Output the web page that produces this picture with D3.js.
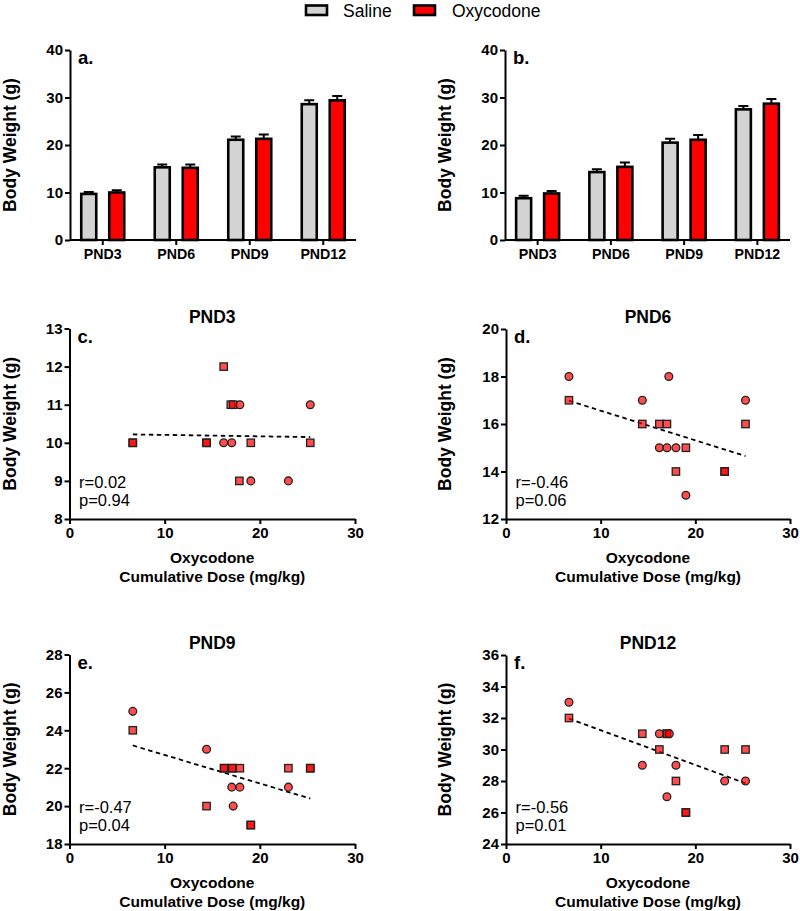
<!DOCTYPE html>
<html>
<head>
<meta charset="utf-8">
<script src="https://cdn.jsdelivr.net/npm/d3@7"></script>
<style>
  html, body { margin: 0; padding: 0; background: #fff; }
  svg text { font-family: Arial, "Liberation Sans", sans-serif; }
</style>
</head>
<body>
<svg id="chart" width="800" height="911"></svg>
<script>
// ---------------- DATA ----------------
const barCategories = ["PND3", "PND6", "PND9", "PND12"];
const barSeries = ["Saline", "Oxycodone"];

// Panel a
const aSaline = [9.7, 15.3, 21.1, 28.6];
const aSalineErr = [0.4, 0.6, 0.7, 0.8];
const aOxy = [10.0, 15.2, 21.3, 29.4];
const aOxyErr = [0.5, 0.7, 0.9, 0.9];
// Panel b
const bSaline = [8.8, 14.3, 20.5, 27.5];
const bSalineErr = [0.5, 0.6, 0.8, 0.7];
const bOxy = [9.8, 15.4, 21.1, 28.7];
const bOxyErr = [0.5, 0.9, 1.0, 1.0];

const barYTicks = [0, 10, 20, 30, 40];
const doseTicks = [0, 10, 20, 30];

// Scatter panels: [dose, weight]; repeated entries = overlapping animals
const pnd3Circles = [[16.2, 10], [17.05, 10], [17.9, 11], [25.3, 11], [19.05, 9], [23.0, 9]];
const pnd3Squares = [[6.65, 10], [6.65, 10], [14.4, 10], [14.4, 10], [16.2, 12], [16.95, 11], [17.2, 11],
                     [17.85, 9], [19.05, 10], [25.3, 10]];
const pnd3Fit = [[6.65, 10.22], [25.3, 10.15]];
const pnd3YTicks = [8, 9, 10, 11, 12, 13];

const pnd6Circles = [[6.65, 18], [14.4, 17], [17.2, 18], [16.2, 15], [17.0, 15], [17.95, 15], [19.0, 13], [25.3, 17]];
const pnd6Squares = [[6.65, 17], [14.4, 16], [16.2, 16], [17.0, 16], [19.0, 15], [17.95, 14], [23.1, 14], [23.1, 14], [25.3, 16]];
const pnd6Fit = [[6.65, 16.98], [25.3, 14.65]];
const pnd6YTicks = [12, 14, 16, 18, 20];

const pnd9Circles = [[6.65, 25], [14.4, 23], [17.05, 21], [17.9, 21], [17.2, 20], [23.0, 21]];
const pnd9Squares = [[6.65, 24], [14.4, 20], [16.25, 22], [16.25, 22], [17.1, 22], [17.1, 22], [17.9, 22],
                     [19.05, 19], [19.05, 19], [23.0, 22], [25.3, 22], [25.3, 22]];
const pnd9Fit = [[6.65, 23.2], [25.3, 20.4]];
const pnd9YTicks = [18, 20, 22, 24, 26, 28];

const pnd12Circles = [[6.65, 33], [14.4, 29], [16.2, 31], [17.25, 31], [17.95, 29], [17.0, 27], [23.1, 28], [25.3, 28]];
const pnd12Squares = [[6.65, 32], [14.4, 31], [16.2, 30], [17.0, 31], [17.0, 31], [17.95, 28], [19.0, 26], [19.0, 26],
                      [23.1, 30], [25.3, 30]];
const pnd12Fit = [[6.65, 31.96], [25.3, 27.85]];
const pnd12YTicks = [24, 26, 28, 30, 32, 34, 36];

const stats = {
  c: ["r=0.02", "p=0.94"],
  d: ["r=-0.46", "p=0.06"],
  e: ["r=-0.47", "p=0.04"],
  f: ["r=-0.56", "p=0.01"]
};

// ---------------- DRAWING ----------------
const svg = d3.select("#chart");
const colors = { Saline: "#d3d3d3", Oxycodone: "#ff0000" };
const intFmt = d3.format("d");

function styleAxis(g) {
  g.selectAll(".domain").attr("stroke", "#000").attr("stroke-width", 2);
  g.selectAll(".tick line").attr("stroke", "#000").attr("stroke-width", 2);
  g.selectAll(".tick text").attr("fill", "#000").attr("font-weight", "bold")
    .attr("font-size", "15px").attr("font-family", "Arial, 'Liberation Sans', sans-serif");
}

function yLabel(x, cy) {
  svg.append("text")
    .attr("transform", `translate(${x},${cy}) rotate(-90)`)
    .attr("text-anchor", "middle")
    .attr("font-size", "17.5px").attr("font-weight", "bold")
    .text("Body Weight (g)");
}

function panelLetter(x, y, t) {
  svg.append("text").attr("x", x).attr("y", y)
    .attr("font-size", "18.5px").attr("font-weight", "bold").text(t);
}

function barPanel(opt) {
  const { x0, x1, y0, y1, sal, salErr, oxy, oxyErr, letter, labelX } = opt;
  const y = d3.scaleLinear().domain([0, 40]).range([y0, y1]);
  const xb = d3.scaleBand().domain(barCategories).range([x0 - 4, x1 + 4]);
  const xs = d3.scalePoint().domain(barSeries).range([-14, 14]);
  const g = svg.append("g");

  const rows = [];
  barCategories.forEach((c, i) => {
    rows.push({ c, s: "Saline", v: sal[i], e: salErr[i] });
    rows.push({ c, s: "Oxycodone", v: oxy[i], e: oxyErr[i] });
  });
  const bw = 15;
  const cx = d => xb(d.c) + xb.bandwidth() / 2 + xs(d.s);

  // error bars
  g.selectAll(".err").data(rows).enter().append("path")
    .attr("d", d => `M${cx(d)},${y(d.v)}V${y(d.v + d.e)}M${cx(d) - 5},${y(d.v + d.e)}H${cx(d) + 5}`)
    .attr("stroke", "#000").attr("stroke-width", 2).attr("fill", "none");

  g.selectAll(".bar").data(rows).enter().append("rect")
    .attr("x", d => cx(d) - bw / 2)
    .attr("y", d => y(d.v))
    .attr("width", bw)
    .attr("height", d => y(0) - y(d.v))
    .attr("fill", d => colors[d.s])
    .attr("stroke", "#000").attr("stroke-width", 2.6);

  // y axis
  const ya = g.append("g").attr("transform", `translate(${x0},0)`)
    .call(d3.axisLeft(y).tickValues(barYTicks).tickFormat(intFmt).tickSize(5).tickPadding(2).tickSizeOuter(0));
  styleAxis(ya);
  // x axis line
  g.append("path").attr("d", `M${x0},${y0}H${x1}`).attr("stroke", "#000").attr("stroke-width", 2);
  const bx = g.append("g").attr("transform", `translate(0,${y0})`)
    .call(d3.axisBottom(xb).tickSize(5).tickPadding(4).tickSizeOuter(0));
  bx.select(".domain").remove();
  styleAxis(bx);
  bx.selectAll(".tick text").attr("font-size", "14.2px");

  yLabel(labelX, (y0 + y1) / 2);
  panelLetter(x0 + 8, y1 + 13.5, letter);
}

function scatterPanel(opt) {
  const { x0, x1, y0, y1, dom, ticks, circles, squares, fit, letter, title, st, labelX } = opt;
  const x = d3.scaleLinear().domain([0, 30]).range([x0, x1]);
  const y = d3.scaleLinear().domain(dom).range([y0, y1]);
  const g = svg.append("g");

  const xa = g.append("g").attr("transform", `translate(0,${y0})`)
    .call(d3.axisBottom(x).tickValues(doseTicks).tickFormat(intFmt).tickSize(5).tickPadding(3).tickSizeOuter(0));
  styleAxis(xa);
  const ya = g.append("g").attr("transform", `translate(${x0},0)`)
    .call(d3.axisLeft(y).tickValues(ticks).tickFormat(intFmt).tickSize(5).tickPadding(2).tickSizeOuter(0));
  styleAxis(ya);

  // fit line
  g.append("path").datum(fit)
    .attr("d", d3.line().x(d => x(d[0])).y(d => y(d[1])))
    .attr("stroke", "#000").attr("stroke-width", 1.8).attr("fill", "none")
    .attr("stroke-dasharray", "4.5,3.5");

  const fill = "#ff0000", fo = 0.7;
  g.selectAll(".sq").data(squares).enter().append("rect")
    .attr("x", d => x(d[0]) - 3.7).attr("y", d => y(d[1]) - 3.7)
    .attr("width", 7.4).attr("height", 7.4)
    .attr("fill", fill).attr("fill-opacity", fo)
    .attr("stroke", "#222").attr("stroke-width", 1.3);
  g.selectAll(".ci").data(circles).enter().append("circle")
    .attr("cx", d => x(d[0])).attr("cy", d => y(d[1])).attr("r", 3.9)
    .attr("fill", fill).attr("fill-opacity", fo)
    .attr("stroke", "#222").attr("stroke-width", 1.3);

  // title
  svg.append("text").attr("x", (x0 + x1) / 2).attr("y", y1 - 6)
    .attr("text-anchor", "middle").attr("font-size", "17.5px").attr("font-weight", "bold").text(title);
  panelLetter(x0 + 8, y1 + 14, letter);

  // stats
  svg.append("text").attr("x", x0 + 9.5).attr("y", y0 - 31.5)
    .attr("font-size", "16.5px").text(st[0]);
  svg.append("text").attr("x", x0 + 9.5).attr("y", y0 - 13)
    .attr("font-size", "16.5px").text(st[1]);

  // x title
  svg.append("text").attr("x", (x0 + x1) / 2).attr("y", y0 + 44)
    .attr("text-anchor", "middle").attr("font-size", "15.5px").attr("font-weight", "bold").text("Oxycodone");
  svg.append("text").attr("x", (x0 + x1) / 2).attr("y", y0 + 63)
    .attr("text-anchor", "middle").attr("font-size", "15.5px").attr("font-weight", "bold").text("Cumulative Dose (mg/kg)");

  yLabel(labelX, (y0 + y1) / 2);
}

// Legend
const legend = svg.append("g");
const legendItems = [
  { s: "Saline", rx: 306, tx: 343 },
  { s: "Oxycodone", rx: 414, tx: 452 }
];
legendItems.forEach(it => {
  legend.append("rect").attr("x", it.rx).attr("y", 5.5).attr("width", 21).attr("height", 9.5)
    .attr("fill", colors[it.s]).attr("stroke", "#000").attr("stroke-width", 2.6);
  legend.append("text").attr("x", it.tx).attr("y", 16.5)
    .attr("font-size", "17.5px").text(it.s);
});

barPanel({ x0: 70, x1: 356, y0: 240, y1: 50, sal: aSaline, salErr: aSalineErr, oxy: aOxy, oxyErr: aOxyErr, letter: "a.", labelX: 16 });
barPanel({ x0: 505, x1: 790, y0: 240, y1: 50, sal: bSaline, salErr: bSalineErr, oxy: bOxy, oxyErr: bOxyErr, letter: "b.", labelX: 451 });

scatterPanel({ x0: 69.5, x1: 355, y0: 519, y1: 328.5, dom: [8, 13], ticks: pnd3YTicks,
  circles: pnd3Circles, squares: pnd3Squares, fit: pnd3Fit, letter: "c.", title: "PND3", st: stats.c, labelX: 16 });
scatterPanel({ x0: 506, x1: 790, y0: 519, y1: 329, dom: [12, 20], ticks: pnd6YTicks,
  circles: pnd6Circles, squares: pnd6Squares, fit: pnd6Fit, letter: "d.", title: "PND6", st: stats.d, labelX: 451 });
scatterPanel({ x0: 69.5, x1: 355, y0: 844, y1: 654.5, dom: [18, 28], ticks: pnd9YTicks,
  circles: pnd9Circles, squares: pnd9Squares, fit: pnd9Fit, letter: "e.", title: "PND9", st: stats.e, labelX: 16 });
scatterPanel({ x0: 506, x1: 790, y0: 844, y1: 655, dom: [24, 36], ticks: pnd12YTicks,
  circles: pnd12Circles, squares: pnd12Squares, fit: pnd12Fit, letter: "f.", title: "PND12", st: stats.f, labelX: 451 });
</script>
</body>
</html>
